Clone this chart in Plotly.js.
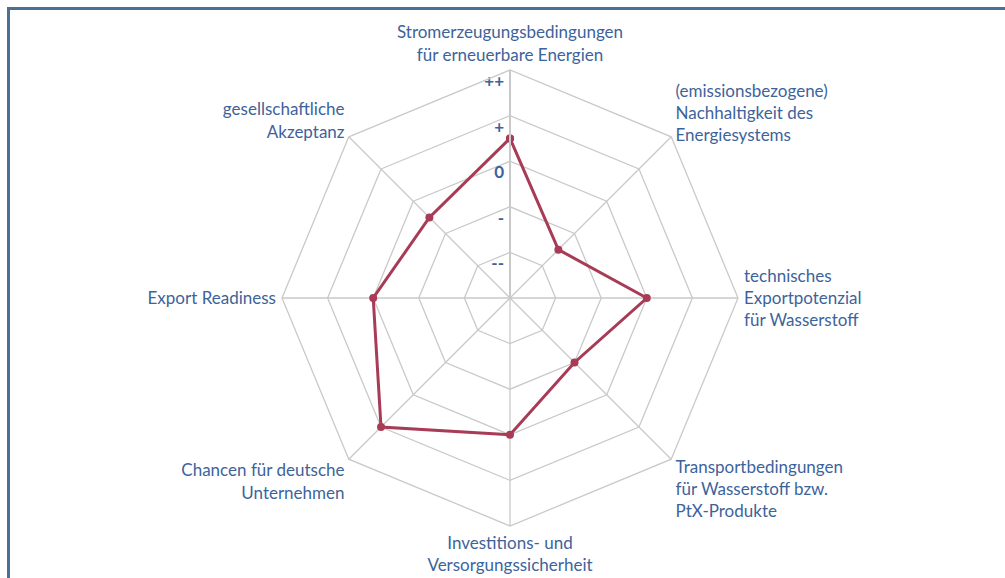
<!DOCTYPE html>
<html>
<head>
<meta charset="utf-8">
<script src="https://cdn.plot.ly/plotly-3.0.1.min.js"></script>
<style>
  html, body { margin: 0; padding: 0; background: #fff; }
  #chart { width: 1005px; height: 578px; }
</style>
</head>
<body>
<div id="chart"></div>
<script>
// Categories (clockwise from top)
const categories = [
  "Stromerzeugungsbedingungen<br>für erneuerbare Energien",
  "(emissionsbezogene)<br>Nachhaltigkeit des<br>Energiesystems",
  "technisches<br>Exportpotenzial<br>für Wasserstoff",
  "Transportbedingungen<br>für Wasserstoff bzw.<br>PtX-Produkte",
  "Investitions- und<br>Versorgungssicherheit",
  "Chancen für deutsche<br>Unternehmen",
  "Export Readiness",
  "gesellschaftliche<br>Akzeptanz"
];
// Scores (1 = "--", 2 = "-", 3 = "0", 4 = "+", 5 = "++")
const scores = [3.5, 1.5, 3, 2, 3, 4, 3, 2.5];
// Radial scale tick labels
const tickValues = [1, 2, 3, 4, 5];
const tickLabels = ["--", "-", "0", "+", "++"];

const textBlue = "#3D639B";
const gridGrey = "#C9C9C9";
const lineRed = "#A83B56";
const font = "Lato, 'Open Sans', sans-serif";

const closedTheta = categories.concat([categories[0]]);
const closedR = scores.concat([scores[0]]);

const traces = [
  {
    type: "scatterpolar",
    r: closedR,
    theta: closedTheta,
    mode: "lines+markers",
    line: { color: lineRed, width: 3 },
    marker: { color: lineRed, size: 8 },
    hoverinfo: "skip",
    showlegend: false,
    cliponaxis: false
  },
  {
    type: "scatterpolar",
    r: tickValues.map(v => v - 0.28),
    theta: tickValues.map(() => categories[0]),
    mode: "markers+text",
    marker: { size: 8, color: "rgba(0,0,0,0)" },
    text: tickLabels.map(t => "<b>" + t + "</b>"),
    textposition: "middle left",
    textfont: { family: font, size: 17, color: textBlue },
    hoverinfo: "skip",
    showlegend: false,
    cliponaxis: false
  }
];

const W = 1005, H = 578, cx = 510, cy = 298, R = 228;

const layout = {
  width: W,
  height: H,
  margin: { l: 0, r: 0, t: 0, b: 0 },
  paper_bgcolor: "#ffffff",
  plot_bgcolor: "#ffffff",
  showlegend: false,
  font: { family: font, size: 17, color: textBlue },
  polar: {
    domain: { x: [(cx - R) / W, (cx + R) / W], y: [(H - cy - R) / H, (H - cy + R) / H] },
    bgcolor: "#ffffff",
    gridshape: "linear",
    radialaxis: {
      range: [0, 5],
      tickvals: tickValues,
      showticklabels: false,
      ticks: "",
      angle: 90,
      showline: true,
      linecolor: gridGrey,
      linewidth: 2,
      gridcolor: gridGrey,
      gridwidth: 1.3
    },
    angularaxis: {
      direction: "clockwise",
      rotation: 90,
      ticks: "outside",
      ticklen: 2,
      tickcolor: "rgba(0,0,0,0)",
      showline: true,
      linecolor: gridGrey,
      linewidth: 1.3,
      gridcolor: gridGrey,
      gridwidth: 1.3,
      tickfont: { family: font, size: 17, color: textBlue }
    }
  },
  shapes: [
    {
      type: "rect", xref: "paper", yref: "paper",
      x0: 8.5 / W, x1: 1.02, y0: -0.02, y1: 1 - 8.5 / H,
      line: { color: "#4F6E96", width: 3 },
      layer: "below"
    }
  ]
};

Plotly.newPlot("chart", traces, layout, { staticPlot: true, displayModeBar: false });
</script>
</body>
</html>
